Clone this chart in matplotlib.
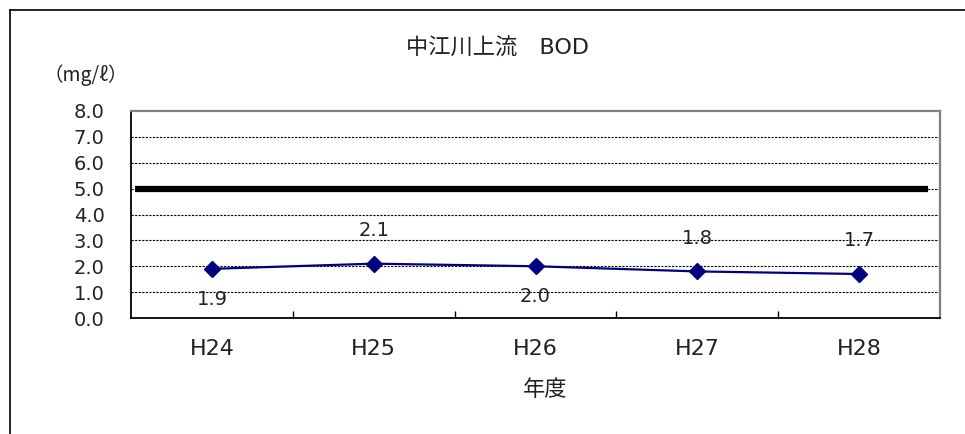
import matplotlib
matplotlib.use("Agg")
import matplotlib.pyplot as plt
from matplotlib.lines import Line2D

plt.rcParams['font.family'] = ['DejaVu Sans', 'Noto Sans CJK JP']

title = "中江川上流　BOD"
unit_label = "（mg/ℓ）"
x_label = "年度"
categories = ["H24", "H25", "H26", "H27", "H28"]
bod_values = [1.9, 2.1, 2.0, 1.8, 1.7]
label_above = [False, True, False, True, True]
standard_value = 5.0
y_ticks = [0.0, 1.0, 2.0, 3.0, 4.0, 5.0, 6.0, 7.0, 8.0]

fig = plt.figure(figsize=(9.65, 4.34), dpi=100)
ax = fig.add_axes([131/965, 1 - 318/434, (940-131)/965, (318-111)/434])

x = list(range(len(categories)))
ax.set_xlim(-0.5, len(categories) - 0.5)
ax.set_ylim(y_ticks[0], y_ticks[-1])

# grid
for yv in y_ticks[1:-1]:
    ax.axhline(yv, color='black', lw=0.8, ls=(0, (2, 1.2)), zorder=1)

# standard line
ax.axhline(standard_value, xmin=0.005, xmax=0.985, color='black', lw=4.5, zorder=2,
           solid_capstyle='butt')

# series
ax.plot(x, bod_values, color='#000080', lw=1.6, marker='D', markersize=8,
        markerfacecolor='#000080', markeredgecolor='#000080', zorder=3)

for xi, v, up in zip(x, bod_values, label_above):
    ax.annotate(f"{v:.1f}", (xi, v), xytext=(0, 24 if up else -22),
                textcoords='offset points', ha='center', va='center',
                fontsize=14, color='#222222')

# axes styling
ax.set_yticks(y_ticks)
ax.set_yticklabels([f"{t:.1f}" for t in y_ticks])
ax.set_xticks(x)
ax.set_xticklabels(categories)
ax.tick_params(axis='y', length=0, pad=19, labelsize=14, labelcolor='#222222')
ax.tick_params(axis='x', length=0, pad=15, labelsize=16, labelcolor='#222222')
# minor ticks at category boundaries pointing inward
ax.set_xticks([i + 0.5 for i in range(len(categories) - 1)], minor=True)
ax.tick_params(axis='x', which='minor', direction='in', length=5, width=1, color='black')

for s in ['left', 'bottom']:
    ax.spines[s].set_color('black')
    ax.spines[s].set_linewidth(1.3)
for s in ['top', 'right']:
    ax.spines[s].set_color('#808080')
    ax.spines[s].set_linewidth(1.6)

fig.text(497/965, 1 - 48/434, title, ha='center', va='center', fontsize=16, color='#222222')
fig.text(86/965, 1 - 75/434, unit_label, ha='center', va='center', fontsize=14, color='#222222',
         family=['Noto Sans CJK JP', 'DejaVu Sans'])
fig.text(545/965, 1 - 390/434, x_label, ha='center', va='center', fontsize=16, color='#222222')

# outer frame (left and top edges visible)
fig.add_artist(Line2D([10/965, 10/965], [0, 1 - 10/434], transform=fig.transFigure,
                      color='black', lw=1.2))
fig.add_artist(Line2D([10/965, 1], [1 - 10/434, 1 - 10/434], transform=fig.transFigure,
                      color='black', lw=1.2))

fig.savefig("out.png", dpi=100)
